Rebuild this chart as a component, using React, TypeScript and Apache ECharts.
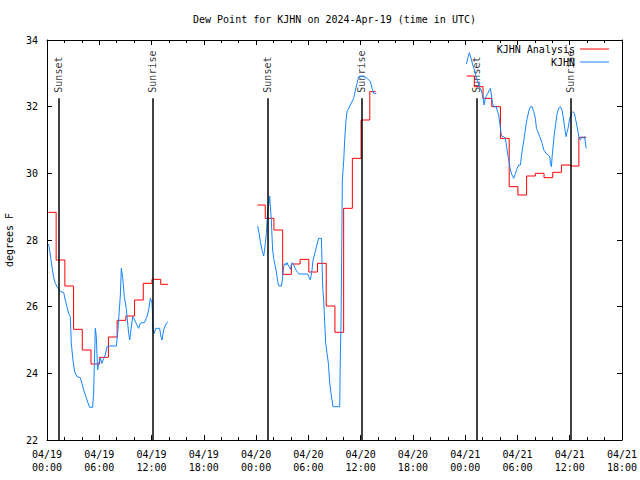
import React, { useEffect, useRef } from "react";
import * as echarts from "echarts";

const titleText = "Dew Point for KJHN on 2024-Apr-19 (time in UTC)";
const yAxisName = "degrees F";
const xTickLabels = [
  "04/19\n00:00", "04/19\n06:00", "04/19\n12:00", "04/19\n18:00",
  "04/20\n00:00", "04/20\n06:00", "04/20\n12:00", "04/20\n18:00",
  "04/21\n00:00", "04/21\n06:00", "04/21\n12:00", "04/21\n18:00",
];

// Sunset / sunrise times (hours since 04/19 00:00 UTC)
const sunTimes = [1.33, 12.12, 25.33, 36.08, 49.29, 60.08];
const sunLabels = ["Sunset", "Sunrise", "Sunset", "Sunrise", "Sunset", "Sunrise"];

// KJHN Analysis (hourly values), per segment
const red1Start = 0;
const red1Values = [28.83, 27.4, 26.62, 25.32, 24.7, 24.28, 24.48, 25.09, 25.59, 25.72, 26.2, 26.7, 26.82, 26.67];
const red1End = 13.9;
const red2Start = 24;
const red2Values = [29.05, 28.65, 28.3, 26.97, 27.28, 27.42, 27.04, 27.3, 26.02, 25.23, 28.95, 30.45, 31.6, 32.45];
const red2End = 37.72;
const red3Start = 48;
const red3Values = [32.92, 32.6, 32.25, 32.0, 31.05, 29.6, 29.35, 29.92, 30.0, 29.87, 30.03, 30.25, 30.22, 31.08];
const red3End = 61.9;

// KJHN observations [hour, dew point]
const blue1: [number, number][] = [
  [0.19, 27.88], [0.38, 27.55], [0.57, 27.2], [0.76, 26.88], [0.95, 26.7], [1.22, 26.57], [1.53, 26.45], [1.91, 26.43],
  [2.1, 26.2], [2.29, 26.0], [2.48, 25.8], [2.68, 25.7], [2.79, 24.9], [2.98, 24.4], [3.17, 24.05], [3.44, 23.9],
  [3.82, 23.87], [4.01, 23.7], [4.21, 23.5], [4.59, 23.2], [4.89, 22.98], [5.24, 22.98], [5.35, 23.4], [5.43, 24.2],
  [5.55, 25.35], [5.66, 25.1], [5.81, 24.1], [5.93, 24.3], [6.12, 24.45], [6.31, 24.3], [6.5, 24.45], [6.69, 24.55],
  [6.89, 24.8], [7.08, 24.82], [7.96, 24.82], [8.11, 25.2], [8.22, 25.6], [8.42, 26.35], [8.53, 27.15], [8.68, 26.9],
  [8.87, 26.3], [9.1, 25.95], [9.37, 25.2], [9.49, 25.0], [9.64, 25.3], [9.83, 25.7], [10.06, 25.6], [10.33, 25.45],
  [10.52, 25.35], [10.71, 25.5], [10.9, 25.52], [11.17, 25.52], [11.48, 25.7], [11.67, 25.9], [11.86, 26.25], [12.05, 26.12],
  [12.13, 25.7], [12.17, 25.3], [12.32, 25.2], [12.47, 25.35], [12.7, 25.35], [12.93, 25.35], [13.08, 25.1], [13.2, 25.0],
  [13.39, 25.3], [13.6, 25.45], [13.77, 25.52], [13.89, 25.55],
];
const blue2: [number, number][] = [
  [24.18, 28.42], [24.34, 28.2], [24.49, 27.95], [24.68, 27.7], [24.87, 27.52], [24.95, 27.65], [25.06, 27.9], [25.18, 28.2],
  [25.33, 28.9], [25.48, 29.1], [25.56, 29.32], [25.64, 29.0], [25.75, 28.6], [25.83, 28.1], [25.9, 27.7], [26.02, 27.45],
  [26.13, 27.3], [26.29, 27.1], [26.4, 26.9], [26.52, 26.7], [26.63, 26.62], [26.9, 26.62], [27.01, 26.8], [27.13, 27.1],
  [27.21, 27.25], [27.32, 27.3], [27.44, 27.25], [27.55, 27.32], [27.67, 27.25], [27.82, 27.18], [27.93, 27.12], [28.05, 27.25],
  [28.16, 27.32], [28.28, 27.27], [28.43, 27.18], [28.58, 27.1], [28.78, 27.02], [28.89, 26.98], [29.92, 26.98], [30.04, 26.9],
  [30.23, 26.8], [30.42, 27.1], [30.54, 27.4], [30.69, 27.55], [30.84, 27.7], [31.0, 27.88], [31.19, 28.05], [31.49, 28.05],
  [31.57, 27.3], [31.65, 26.55], [31.76, 26.2], [31.88, 25.5], [31.99, 24.9], [32.14, 24.6], [32.3, 24.3], [32.45, 23.7],
  [32.6, 23.4], [32.83, 23.0], [33.6, 23.0], [33.67, 24.55], [33.75, 25.5], [33.83, 27.7], [33.9, 29.8], [34.06, 30.4],
  [34.17, 31.0], [34.32, 31.6], [34.44, 31.85], [34.82, 32.05], [35.2, 32.25], [35.4, 32.5], [35.59, 32.7], [35.78, 32.9],
  [36.16, 32.92], [36.74, 32.85], [37.12, 32.75], [37.31, 32.55], [37.39, 32.5], [37.5, 32.4], [37.81, 32.4],
];
const blue3: [number, number][] = [
  [48.14, 33.28], [48.29, 33.45], [48.48, 33.62], [48.68, 33.45], [48.87, 33.25], [49.06, 33.1], [49.25, 32.9], [49.44, 32.75],
  [49.63, 32.6], [49.82, 32.5], [49.94, 32.4], [50.05, 32.25], [50.17, 32.05], [50.28, 32.2], [50.4, 32.3], [50.59, 32.4],
  [50.78, 32.5], [50.9, 32.55], [51.01, 32.35], [51.13, 32.1], [51.28, 32.0], [51.55, 32.0], [51.66, 31.9], [51.85, 31.75],
  [51.97, 31.5], [52.12, 31.2], [52.24, 31.1], [52.43, 31.1], [52.62, 31.05], [52.81, 30.7], [53.0, 30.4], [53.19, 30.1],
  [53.38, 29.95], [53.57, 29.85], [53.77, 30.0], [53.96, 30.15], [54.15, 30.25], [54.34, 30.25], [54.45, 30.5], [54.61, 30.8],
  [54.8, 31.1], [54.95, 31.4], [55.11, 31.65], [55.34, 31.9], [55.49, 32.0], [55.68, 32.0], [55.87, 31.85], [56.06, 31.65],
  [56.18, 31.35], [56.33, 31.25], [56.56, 31.1], [56.83, 30.9], [57.02, 30.7], [57.29, 30.6], [57.52, 30.55], [57.71, 30.5],
  [57.78, 30.3], [57.9, 30.2], [57.98, 30.5], [58.09, 30.8], [58.24, 31.2], [58.4, 31.5], [58.55, 31.8], [58.74, 31.95],
  [58.93, 32.0], [59.12, 31.9], [59.31, 31.6], [59.43, 31.35], [59.58, 31.1], [59.7, 31.25], [59.81, 31.35], [59.97, 31.6],
  [60.16, 31.8], [60.35, 31.85], [60.54, 31.8], [60.65, 31.65], [60.85, 31.4], [61.04, 31.1], [61.23, 31.0], [61.42, 31.1],
  [61.61, 31.05], [61.69, 31.1], [61.76, 31.0], [61.88, 30.75],
];

const FONT = "'DejaVu Sans Mono', 'Liberation Mono', monospace";

function stepSegment(start: number, values: number[], end: number) {
  const pts: (number | null)[][] = values.map((v, i) => [start + i + (i === 0 ? 0.15 : 0.05), v]);
  pts.push([end, values[values.length - 1]]);
  pts.push([end + 0.05, null]);
  return pts;
}

function joinSegments(segs: [number, number][][]) {
  const out: (number | null)[][] = [];
  segs.forEach((s) => {
    s.forEach((p) => out.push(p));
    out.push([s[s.length - 1][0] + 0.05, null]);
  });
  return out;
}

export default function App() {
  const ref = useRef<HTMLDivElement>(null);
  useEffect(() => {
    if (!ref.current) return;
    const chart = echarts.init(ref.current, null, { renderer: "svg" });
    const redData = [
      ...stepSegment(red1Start, red1Values, red1End),
      ...stepSegment(red2Start, red2Values, red2End),
      ...stepSegment(red3Start, red3Values, red3End),
    ];
    const blueData = joinSegments([blue1, blue2, blue3]);
    const black = "#000";
    const axisCommon = {
      axisLine: { show: true, onZero: false, lineStyle: { color: black, width: 1 } },
      splitLine: { show: false },
    };
    const option: any = {
      animation: false,
      backgroundColor: "#fff",
      title: {
        text: titleText,
        left: 193,
        top: 14,
        padding: 0,
        textStyle: { fontFamily: FONT, fontSize: 10, fontWeight: "normal", color: black },
      },
      legend: [
        {
          data: ["KJHN Analysis"],
          right: 31,
          top: 44,
          padding: 0,
          align: "right",
          icon: "rect",
          itemWidth: 29,
          itemHeight: 1,
          selectedMode: false,
          textStyle: { fontFamily: FONT, fontSize: 10, color: black },
        },
        {
          data: ["KJHN"],
          right: 31,
          top: 57,
          padding: 0,
          align: "right",
          icon: "rect",
          itemWidth: 29,
          itemHeight: 1,
          selectedMode: false,
          textStyle: { fontFamily: FONT, fontSize: 10, color: black },
        },
      ],
      grid: { left: 47, right: 18, top: 40, bottom: 40, containLabel: false, outerBoundsMode: "none" },
      xAxis: [
        {
          type: "value",
          min: 0,
          max: 66,
          interval: 6,
          position: "bottom",
          ...axisCommon,
          axisTick: { show: true, inside: true, length: 5, lineStyle: { color: black } },
          minorTick: { show: true, splitNumber: 3, length: 3, lineStyle: { color: black } },
          axisLabel: {
            showMinLabel: true,
            showMaxLabel: true,
            formatter: (v: number) => xTickLabels[Math.round(v / 6)] ?? "",
            fontFamily: FONT,
            fontSize: 10,
            color: black,
            margin: 8,
            lineHeight: 13,
          },
        },
        {
          type: "value",
          min: 0,
          max: 66,
          interval: 6,
          position: "top",
          ...axisCommon,
          axisTick: { show: true, inside: true, length: 5, lineStyle: { color: black } },
          minorTick: { show: true, splitNumber: 3, length: 3, lineStyle: { color: black } },
          axisLabel: { show: false },
        },
      ],
      yAxis: [
        {
          type: "value",
          min: 22,
          max: 34,
          interval: 2,
          position: "left",
          ...axisCommon,
          axisTick: { show: true, inside: true, length: 5, lineStyle: { color: black } },
          axisLabel: { fontFamily: FONT, fontSize: 10, color: black, margin: 9 },
          name: yAxisName,
          nameLocation: "middle",
          nameRotate: 90,
          nameGap: 33,
          nameTextStyle: { fontFamily: FONT, fontSize: 10, color: black },
        },
        {
          type: "value",
          min: 22,
          max: 34,
          interval: 2,
          position: "right",
          ...axisCommon,
          axisTick: { show: true, inside: true, length: 5, lineStyle: { color: black } },
          axisLabel: { show: false },
        },
      ],
      series: [
        {
          name: "sun",
          type: "scatter",
          xAxisIndex: 0,
          yAxisIndex: 0,
          symbolSize: 0,
          silent: true,
          data: sunTimes.map((t, i) => ({ value: [t, 32.42], name: sunLabels[i] })),
          label: {
            show: true,
            formatter: "{b}",
            position: "inside",
            rotate: 90,
            align: "left",
            verticalAlign: "middle",
            fontFamily: FONT,
            fontSize: 10,
            color: black,
          },
          markLine: {
            silent: true,
            symbol: "none",
            label: { show: false },
            lineStyle: { color: black, width: 1.5, type: "solid" },
            data: sunTimes.map((t) => [{ coord: [t, 22] }, { coord: [t, 32.25] }]),
          },
        },
        {
          name: "KJHN Analysis",
          type: "line",
          step: "end",
          xAxisIndex: 0,
          yAxisIndex: 0,
          symbol: "none",
          connectNulls: false,
          data: redData,
          lineStyle: { color: "#ff0000", width: 1 },
          itemStyle: { color: "#ff0000" },
        },
        {
          name: "KJHN",
          type: "line",
          xAxisIndex: 0,
          yAxisIndex: 0,
          symbol: "none",
          connectNulls: false,
          data: blueData,
          lineStyle: { color: "#1584ff", width: 1 },
          itemStyle: { color: "#1584ff" },
        },
      ],
    };
    chart.setOption(option);
    return () => chart.dispose();
  }, []);
  return (
    <div
      ref={ref}
      style={{ position: "fixed", left: 0, top: 0, width: 640, height: 480, background: "#fff" }}
    />
  );
}
